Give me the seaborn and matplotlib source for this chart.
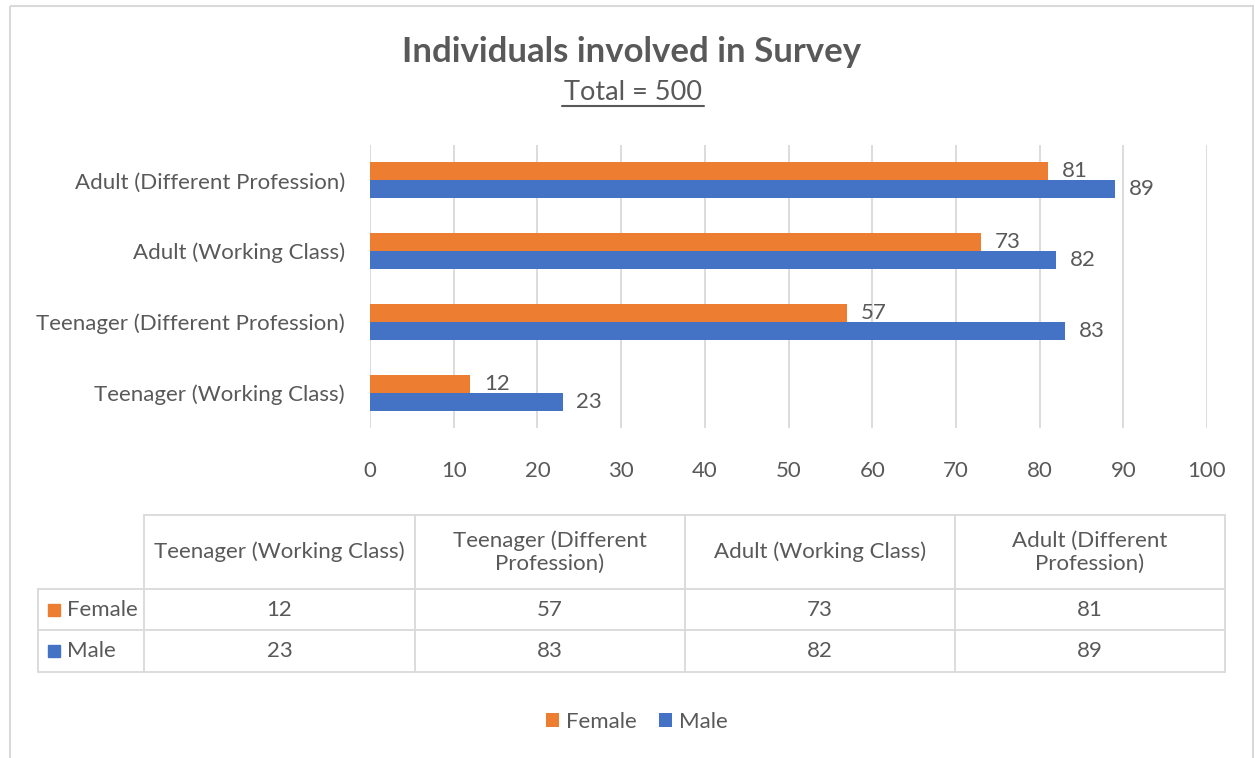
import textwrap
import pandas as pd
import matplotlib
matplotlib.use("Agg")
import matplotlib.pyplot as plt
import seaborn as sns
from matplotlib.patches import Rectangle

categories = ["Teenager (Working Class)", "Teenager (Different Profession)",
              "Adult (Working Class)", "Adult (Different Profession)"]
female = [12, 57, 73, 81]
male = [23, 83, 82, 89]
series = ["Female", "Male"]
x_ticks = list(range(0, 101, 10))

ORANGE = "#ED7D31"
BLUE = "#4472C4"
TEXT = "#595959"
GRID = "#D9D9D9"
W, H = 1255, 758
FS = 16


def main():
    sns.set_theme(style="white")
    plt.rcParams["font.family"] = ["Lato", "DejaVu Sans"]

    df = pd.DataFrame({
        "category": categories * 2,
        "value": female + male,
        "gender": ["Female"] * len(categories) + ["Male"] * len(categories),
    })

    fig = plt.figure(figsize=(W / 100, H / 100), dpi=100)

    # overlay in pixel coordinates: frame, title underline, table
    over = fig.add_axes([0, 0, 1, 1])
    over.set_xlim(0, W)
    over.set_ylim(H, 0)
    over.axis("off")
    over.add_patch(Rectangle((10, 6), 1243, 800, fill=False, edgecolor=GRID, lw=1.5))

    ax = fig.add_axes([370 / W, 1 - 428 / H, (1207 - 370) / W, (428 - 145) / H])
    sns.barplot(data=df, y="category", x="value", hue="gender",
                order=categories[::-1], hue_order=series,
                palette=[ORANGE, BLUE], saturation=1, width=0.51,
                orient="h", linewidth=0, ax=ax)

    for cont in ax.containers:
        ax.bar_label(cont, padding=10, fontsize=FS, color=TEXT)

    ax.set_xlim(0, 100)
    ax.set_xticks(x_ticks)
    ax.set_xlabel("")
    ax.set_ylabel("")
    ax.grid(axis="x", color=GRID, lw=1.3)
    ax.set_axisbelow(True)
    for s in ax.spines.values():
        s.set_visible(False)
    ax.tick_params(axis="x", length=0, pad=24, labelsize=FS, labelcolor=TEXT)
    ax.tick_params(axis="y", length=0, pad=18, labelsize=FS, labelcolor=TEXT)

    handles, labels = ax.get_legend_handles_labels()
    ax.get_legend().remove()
    fig.legend(handles, labels, loc="center", bbox_to_anchor=(637 / W, 1 - 722 / H),
               ncol=2, frameon=False, fontsize=FS, handlelength=0.6, handleheight=0.6,
               handletextpad=0.3, columnspacing=1.0, labelcolor=TEXT)

    # title
    fig.text(632 / W, 1 - 52 / H, "Individuals involved in Survey", ha="center", va="center",
             fontsize=25, fontweight="bold", color=TEXT)
    fig.text(633 / W, 1 - 92 / H, "Total = 500", ha="center", va="center",
             fontsize=19.5, color=TEXT)
    over.plot([562, 704], [106, 106], color=TEXT, lw=1.5)

    # data table
    xs = [38, 144, 415, 685, 955, 1225]
    ys = [515, 589, 630, 672]
    over.plot([xs[1], xs[-1]], [ys[0], ys[0]], color=GRID, lw=1.3)
    for y in ys[1:]:
        over.plot([xs[0], xs[-1]], [y, y], color=GRID, lw=1.3)
    over.plot([xs[0], xs[0]], [ys[1], ys[-1]], color=GRID, lw=1.3)
    for x in xs[1:]:
        over.plot([x, x], [ys[0], ys[-1]], color=GRID, lw=1.3)

    for i, cat in enumerate(categories):
        cx = (xs[i + 1] + xs[i + 2]) / 2
        over.text(cx, (ys[0] + ys[1]) / 2, textwrap.fill(cat, 24), ha="center", va="center",
                  fontsize=FS, color=TEXT, linespacing=1.2)
        for r, vals in enumerate([female, male]):
            over.text(cx, (ys[r + 1] + ys[r + 2]) / 2, str(vals[i]), ha="center", va="center",
                      fontsize=FS, color=TEXT)

    for r, (name, col) in enumerate(zip(series, [ORANGE, BLUE])):
        cy = (ys[r + 1] + ys[r + 2]) / 2
        over.add_patch(Rectangle((48, cy - 6), 12, 12, color=col))
        over.text(67, cy, name, ha="left", va="center", fontsize=FS, color=TEXT)

    fig.savefig("out.png", dpi=100)


if __name__ == "__main__":
    main()
